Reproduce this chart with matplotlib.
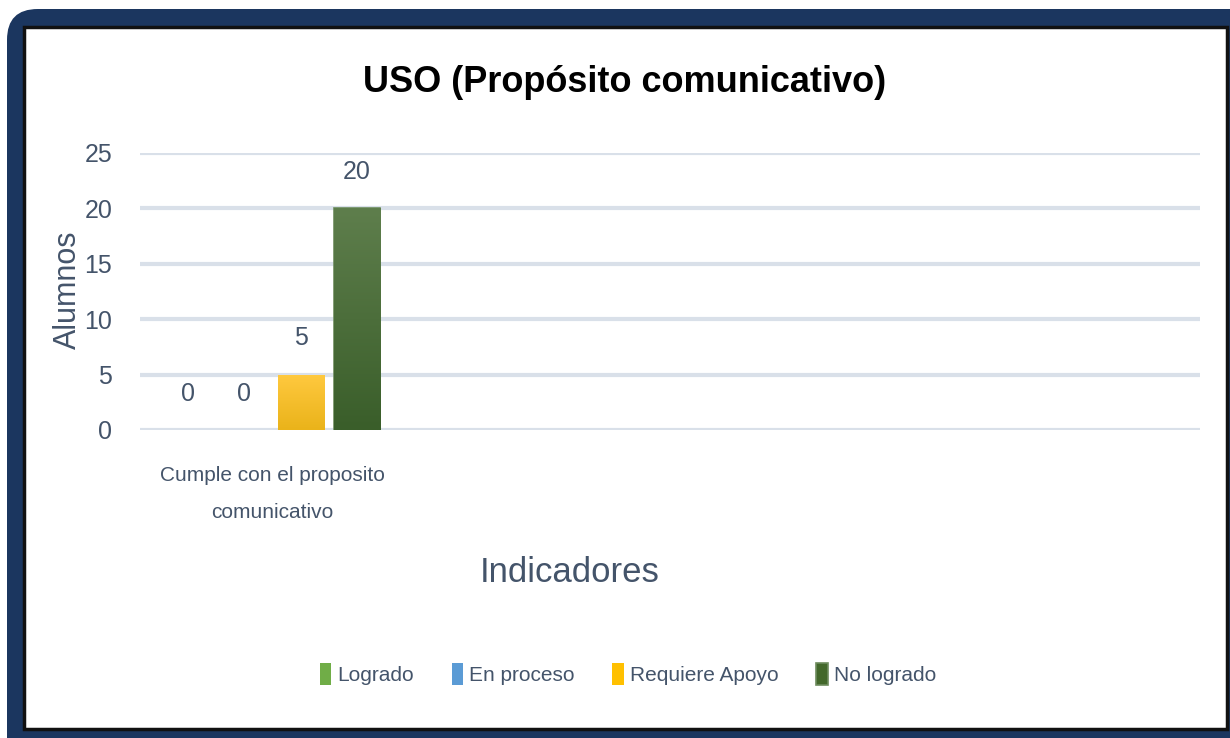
import numpy as np
import matplotlib.pyplot as plt
from matplotlib.patches import FancyBboxPatch, Rectangle
from matplotlib.colors import LinearSegmentedColormap

# Data
categorias = ["Cumple con el proposito\ncomunicativo", "", "", ""]
series = ["Logrado", "En proceso", "Requiere Apoyo", "No logrado"]
valores = {
    "Logrado":        [0, None, None, None],
    "En proceso":     [0, None, None, None],
    "Requiere Apoyo": [5, None, None, None],
    "No logrado":     [20, None, None, None],
}
colores = ["#70AD47", "#5B9BD5", "#FFC000", "#43682B"]
# gradient (top, bottom) for each series
degradados = [("#8CC168", "#5E9A38"), ("#76AEE0", "#3F86C8"),
              ("#FFC93F", "#EAB31A"), ("#5E7E4C", "#3A5E2A")]

texto = "#44546A"
plt.rcParams['font.family'] = ["Liberation Sans", "DejaVu Sans"]

fig = plt.figure(figsize=(12.3, 7.38), dpi=100)
fig.patch.set_facecolor("white")

# navy frame round the chart
W, H = 1230., 738.
frame = FancyBboxPatch((7 / W, -1.0), 1.1, 2.0 - 9 / H,
                       boxstyle="round,pad=0,rounding_size=0.025",
                       transform=fig.transFigure, facecolor="#1B365F",
                       edgecolor="none", zorder=0, mutation_aspect=W / H)
fig.patches.append(frame)
inner = Rectangle((24 / W, 1 - 729 / H), (1227 - 24) / W, (729 - 27) / H,
                  transform=fig.transFigure, facecolor="white",
                  edgecolor="#111111", linewidth=2.5, zorder=1)
fig.patches.append(inner)

ax = fig.add_axes([140 / W, 1 - 430 / H, 1060 / W, 277 / H])
ax.set_facecolor("none")
ax.set_zorder(2)

n = len(series)
paso = 0.212
ancho = 0.174
x = np.arange(len(categorias))

for k, s in enumerate(series):
    vals = [v if v is not None else 0 for v in valores[s]]
    pos = x + (k - (n - 1) / 2) * paso
    barras = ax.bar(pos, vals, width=ancho, color=colores[k], label=s,
                    zorder=3, edgecolor="none")
    cmap = LinearSegmentedColormap.from_list(s, [degradados[k][1], degradados[k][0]])
    for b, v in zip(barras, valores[s]):
        if v is None:
            b.set_visible(False)
            continue
        if v > 0:
            x0, y0 = b.get_x(), b.get_y()
            img = ax.imshow(np.linspace(0, 1, 100).reshape(-1, 1), cmap=cmap,
                            origin="lower", aspect="auto",
                            extent=[x0, x0 + b.get_width(), y0, y0 + v],
                            zorder=4)
            img.set_clip_path(b)
            if k == 3:
                b.set_edgecolor("#6E8C5E")
                b.set_linewidth(1.2)
        ax.annotate(str(v), (b.get_x() + b.get_width() / 2, v),
                    xytext=(0, 26), textcoords="offset points",
                    ha="center", va="center", fontsize=18, color=texto)

ax.set_xlim(-0.5, len(categorias) - 0.5)
ax.set_ylim(0, 25)
ax.set_yticks(range(0, 26, 5))
ax.set_xticks(x)
ax.set_xticklabels(categorias, fontsize=15, color=texto, linespacing=2.2)
ax.tick_params(axis="y", length=0, pad=20, labelsize=18, labelcolor=texto)
ax.tick_params(axis="x", length=0, pad=26)
ax.grid(axis="y", color="#D9E0E9", linewidth=3, zorder=0)
ax.set_axisbelow(True)
for sp in ax.spines.values():
    sp.set_visible(False)

fig.text(625 / W, 1 - 82 / H, "USO (Propósito comunicativo)", ha="center",
         va="center", fontsize=26, fontweight="bold", color="black")
fig.text(68 / W, 1 - 290 / H, "Alumnos", rotation=90, ha="center",
         va="center", fontsize=22, color=texto)
fig.text(570 / W, 1 - 572 / H, "Indicadores", ha="center", va="center",
         fontsize=25, color=texto)

fig.legend(loc="center", bbox_to_anchor=(628 / W, 1 - 674 / H), ncol=4,
           frameon=False, fontsize=15, labelcolor=texto, handlelength=0.55,
           handleheight=1.2, handletextpad=0.3, columnspacing=1.8)

fig.savefig("out.png", dpi=100)
